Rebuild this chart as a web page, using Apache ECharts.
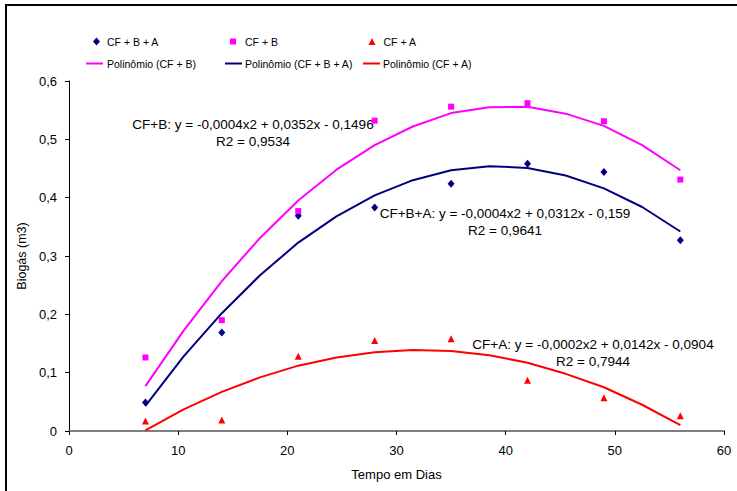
<!DOCTYPE html>
<html>
<head>
<meta charset="utf-8">
<title>Biogás</title>
<script src="https://cdn.jsdelivr.net/npm/echarts@6/dist/echarts.min.js"></script>
<style>
html, body { margin: 0; padding: 0; background: #fff; }
#chart { width: 737px; height: 491px; }
</style>
</head>
<body>
<div id="chart"></div>
<script>
// dias de medição
var days = [7, 14, 21, 28, 35, 42, 49, 56];

// biogás medido (m3)
var cfBA = [0.049, 0.169, 0.369, 0.383, 0.424, 0.458, 0.444, 0.327];
var cfB  = [0.126, 0.190, 0.377, 0.532, 0.556, 0.562, 0.531, 0.431];
var cfA  = [0.017, 0.019, 0.128, 0.155, 0.158, 0.087, 0.057, 0.026];

var trendDays = [7, 10.5, 14, 17.5, 21, 24.5, 28, 31.5, 35, 38.5, 42, 45.5, 49, 52.5, 56];
var trendB  = [0.077, 0.172, 0.257, 0.331, 0.395, 0.448, 0.490, 0.522, 0.545, 0.555, 0.556, 0.544, 0.523, 0.490, 0.447];
var trendBA = [0.043, 0.128, 0.202, 0.267, 0.323, 0.368, 0.404, 0.430, 0.447, 0.454, 0.451, 0.438, 0.416, 0.384, 0.342];
var trendA  = [0.001, 0.037, 0.067, 0.092, 0.112, 0.126, 0.135, 0.139, 0.137, 0.130, 0.117, 0.098, 0.075, 0.045, 0.010];

var eqB  = ["CF+B: y = -0,0004x2 + 0,0352x - 0,1496", "R2 = 0,9534"];
var eqBA = ["CF+B+A: y = -0,0004x2 + 0,0312x - 0,159", "R2 = 0,9641"];
var eqA  = ["CF+A: y = -0,0002x2 + 0,0142x - 0,0904", "R2 = 0,7944"];

var FONT = "'Liberation Sans', Arial, sans-serif";

function pairs(xs, ys)
{
	var out = [];
	for (var i = 0; i < xs.length; ++i)
		out.push([xs[i], ys[i]]);
	return out;
}

function legendAt(name, left, top, w, h, pad, icon)
{
	var l = {
		data: [name],
		left: left,
		top: top,
		itemWidth: w,
		itemHeight: h,
		padding: 0,
		selectedMode: false,
		textStyle: { fontFamily: FONT, fontSize: 10.5, color: '#000', lineHeight: 12, padding: [0, 0, 0, pad] }
	};
	if (icon)
		l.icon = icon;
	return l;
}

function eqText(lines, cx, cy)
{
	return {
		type: 'text',
		x: cx,
		y: cy,
		style: {
			text: lines.join('\n'),
			fontFamily: FONT,
			fontSize: 13.5,
			lineHeight: 17,
			fill: '#000',
			align: 'center',
			verticalAlign: 'top'
		}
	};
}

var my_chart = echarts.init(document.getElementById('chart'), null, { renderer: 'svg' });

var option = {
	animation: false,
	backgroundColor: '#fff',
	textStyle: { fontFamily: FONT },

	legend: [
		legendAt('CF + B + A', 93, 35.5, 7, 8, 2),
		legendAt('CF + B', 230, 35.5, 6, 6, 4),
		legendAt('CF + A', 368.5, 35.5, 7, 7, 3),
		legendAt('Polinômio (CF + B)', 86, 57.5, 17, 2, -1, 'rect'),
		legendAt('Polinômio (CF + B + A)', 225, 57.5, 17, 2, -2, 'rect'),
		legendAt('Polinômio (CF + A)', 363, 57.5, 17, 2, -2, 'rect')
	],

	grid: { left: 69, right: 13, top: 81, bottom: 60, outerBoundsMode: 'none' },

	xAxis: {
		type: 'value',
		min: 0, max: 60, interval: 10,
		name: 'Tempo em Dias',
		nameLocation: 'middle',
		nameGap: 37,
		nameTextStyle: { fontFamily: FONT, fontSize: 13, color: '#000' },
		axisLine: { onZero: false, lineStyle: { color: '#808080', width: 2 } },
		axisTick: { show: true, length: 4, lineStyle: { color: '#000', width: 1 } },
		axisLabel: { fontFamily: FONT, fontSize: 13, color: '#000', margin: 13 },
		splitLine: { show: false }
	},

	yAxis: {
		type: 'value',
		min: 0, max: 0.6, interval: 0.1,
		name: 'Biogás (m3)',
		nameLocation: 'middle',
		nameGap: 38,
		nameTextStyle: { fontFamily: FONT, fontSize: 12.5, color: '#000' },
		axisLine: { show: true, lineStyle: { color: '#000', width: 1 } },
		axisTick: { show: true, length: 4, lineStyle: { color: '#000', width: 1 } },
		axisLabel: {
			fontFamily: FONT, fontSize: 13, color: '#000', margin: 12,
			formatter: function (v) { return v === 0 ? '0' : v.toFixed(1).replace('.', ','); }
		},
		splitLine: { show: false }
	},

	series: [
		{
			name: 'Polinômio (CF + B)', type: 'line', smooth: false, symbol: 'none',
			data: pairs(trendDays, trendB), itemStyle: { color: '#FF00FF' }, lineStyle: { color: '#FF00FF', width: 2 }
		},
		{
			name: 'Polinômio (CF + B + A)', type: 'line', smooth: false, symbol: 'none',
			data: pairs(trendDays, trendBA), itemStyle: { color: '#000080' }, lineStyle: { color: '#000080', width: 2 }
		},
		{
			name: 'Polinômio (CF + A)', type: 'line', smooth: false, symbol: 'none',
			data: pairs(trendDays, trendA), itemStyle: { color: '#FF0000' }, lineStyle: { color: '#FF0000', width: 2 }
		},
		{
			name: 'CF + B + A', type: 'scatter', symbol: 'diamond', symbolSize: [7, 8],
			data: pairs(days, cfBA), itemStyle: { color: '#000080', opacity: 1 }
		},
		{
			name: 'CF + B', type: 'scatter', symbol: 'rect', symbolSize: 6,
			data: pairs(days, cfB), itemStyle: { color: '#FF00FF', opacity: 1 }
		},
		{
			name: 'CF + A', type: 'scatter', symbol: 'triangle', symbolSize: 7,
			data: pairs(days, cfA), itemStyle: { color: '#FF0000', opacity: 1 }
		}
	],

	graphic: [
		{
			type: 'rect',
			shape: { x: 6, y: 5, width: 740, height: 500 },
			style: { fill: 'none', stroke: '#000', lineWidth: 2 },
			silent: true
		},
		eqText(eqB, 253, 116),
		eqText(eqBA, 505, 205),
		eqText(eqA, 593, 336)
	]
};

my_chart.setOption(option);
</script>
</body>
</html>
